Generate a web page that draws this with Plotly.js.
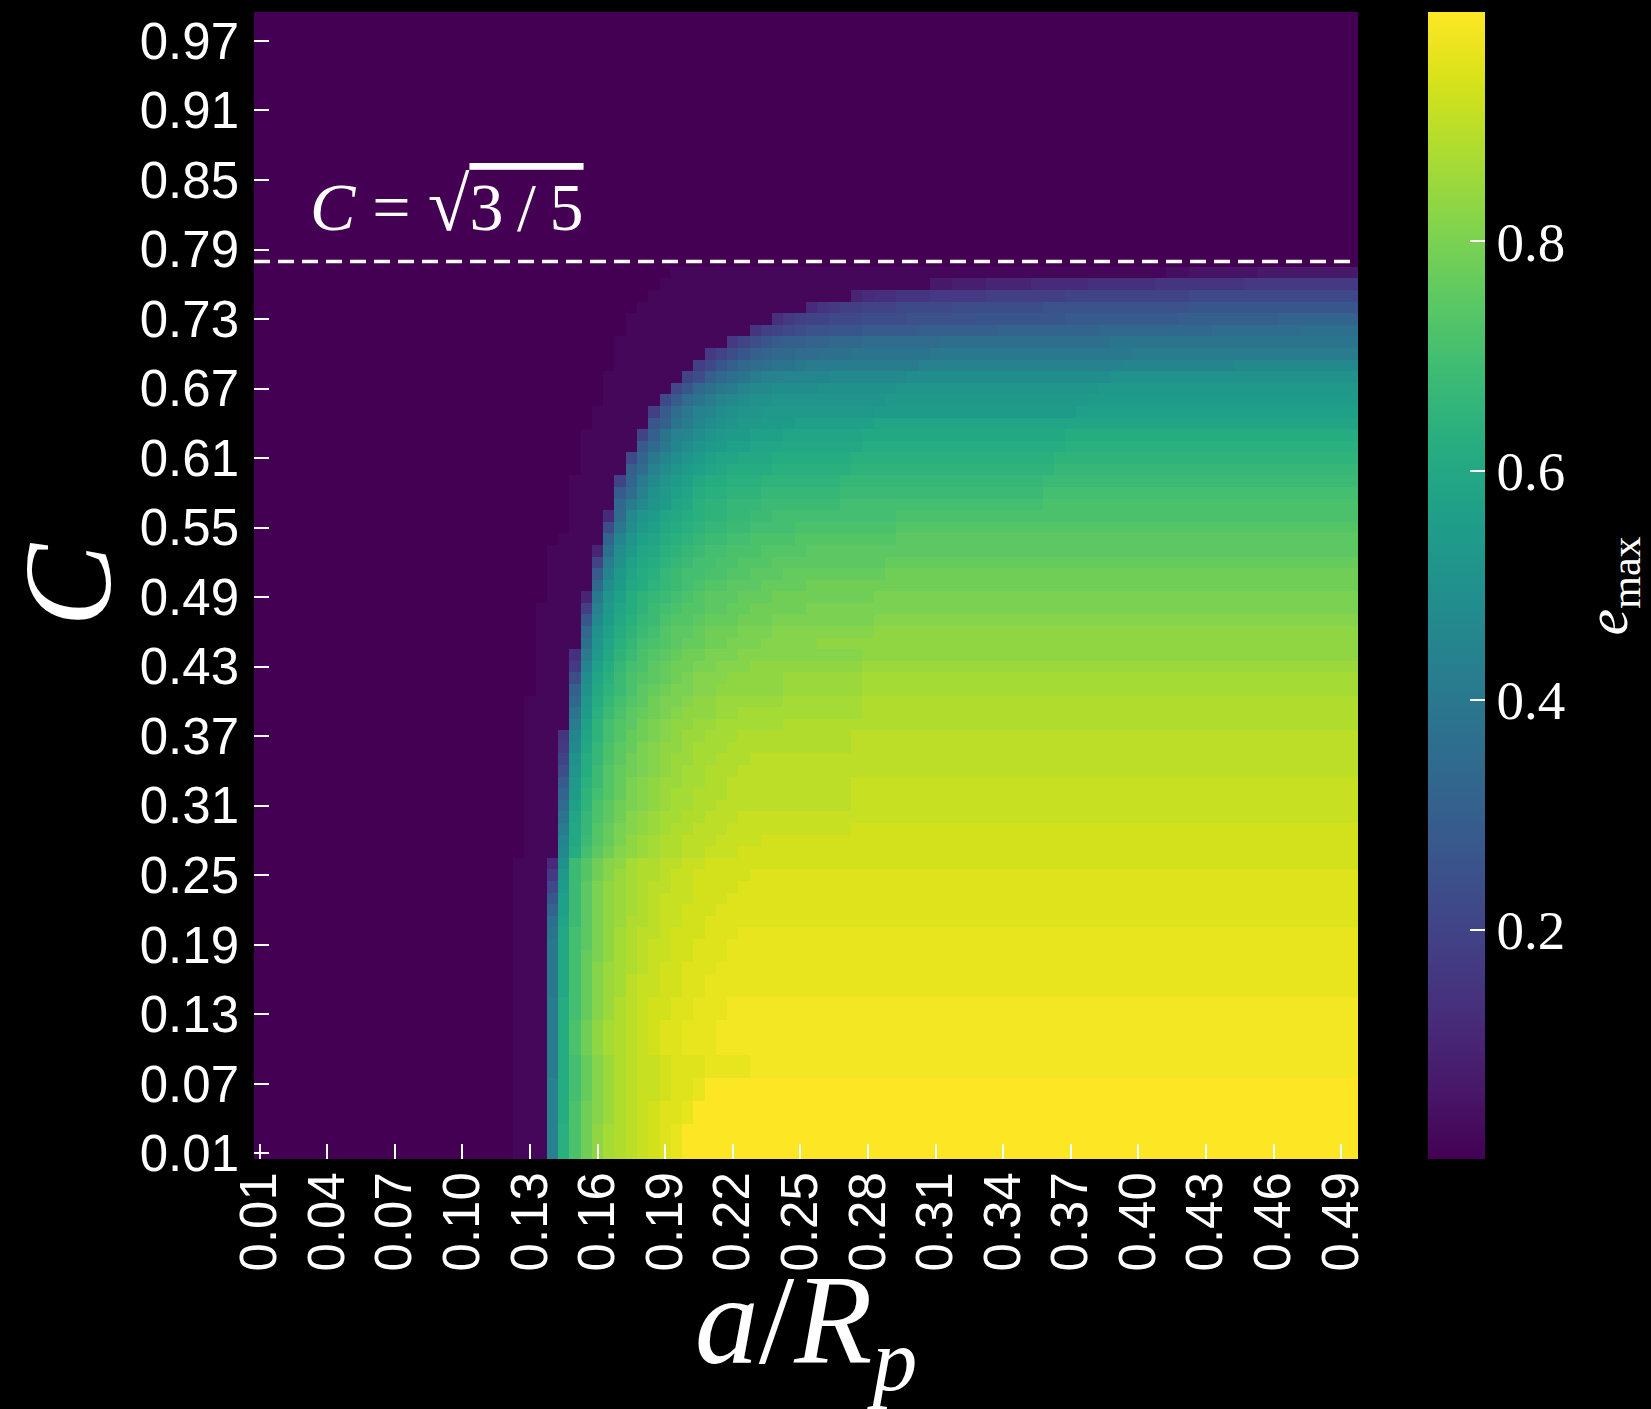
<!DOCTYPE html>
<html>
<head>
<meta charset="utf-8">
<script src="https://cdn.plot.ly/plotly-3.0.1.min.js"></script>
<style>
  html, body { margin: 0; padding: 0; background: #000; }
  #chart { width: 1651px; height: 1409px; }
</style>
</head>
<body>
<div id="chart"></div>
<script>
// ---- data -----------------------------------------------------------------
// a/R_p grid (98 columns)
const aRp = [
  0.0100,0.0151,0.0201,0.0252,0.0302,0.0353,0.0403,0.0454,0.0504,0.0555,
  0.0605,0.0656,0.0706,0.0757,0.0807,0.0858,0.0908,0.0959,0.1009,0.1060,
  0.1110,0.1161,0.1211,0.1262,0.1312,0.1363,0.1413,0.1464,0.1514,0.1565,
  0.1615,0.1666,0.1716,0.1767,0.1818,0.1868,0.1919,0.1969,0.2020,0.2070,
  0.2121,0.2171,0.2222,0.2272,0.2323,0.2373,0.2424,0.2474,0.2525,0.2575,
  0.2626,0.2676,0.2727,0.2777,0.2828,0.2878,0.2929,0.2979,0.3030,0.3080,
  0.3131,0.3181,0.3232,0.3282,0.3333,0.3384,0.3434,0.3485,0.3535,0.3586,
  0.3636,0.3687,0.3737,0.3788,0.3838,0.3889,0.3939,0.3990,0.4040,0.4091,
  0.4141,0.4192,0.4242,0.4293,0.4343,0.4394,0.4444,0.4495,0.4545,0.4596,
  0.4646,0.4697,0.4747,0.4798,0.4848,0.4899,0.4949,0.5000
];
// C grid (99 rows, bottom to top)
const C = [
  0.01,0.02,0.03,0.04,0.05,0.06,0.07,0.08,0.09,0.10,
  0.11,0.12,0.13,0.14,0.15,0.16,0.17,0.18,0.19,0.20,
  0.21,0.22,0.23,0.24,0.25,0.26,0.27,0.28,0.29,0.30,
  0.31,0.32,0.33,0.34,0.35,0.36,0.37,0.38,0.39,0.40,
  0.41,0.42,0.43,0.44,0.45,0.46,0.47,0.48,0.49,0.50,
  0.51,0.52,0.53,0.54,0.55,0.56,0.57,0.58,0.59,0.60,
  0.61,0.62,0.63,0.64,0.65,0.66,0.67,0.68,0.69,0.70,
  0.71,0.72,0.73,0.74,0.75,0.76,0.77,0.78,0.79,0.80,
  0.81,0.82,0.83,0.84,0.85,0.86,0.87,0.88,0.89,0.90,
  0.91,0.92,0.93,0.94,0.95,0.96,0.97,0.98,0.99
];
// e_max, one string per C row (bottom row first).
// Each character is a level: LEVELS.indexOf(ch)/60 ; "c*n" repeats level c n times.
const LEVELS = '0123456789abcdefghijklmnopqrstuvwxyzABCDEFGHIJKLMNOPQRSTUVWXY';
const eMaxRows = [
  "0*23 1*3 qCHLOQRSTUVW Y*60",
  "0*23 1*3 qCHLOQRSTUVW Y*60",
  "0*23 1*3 qCHLOQRSTUVW Y*60",
  "0*23 1*3 qBHLNPRSTUVVW Y*59",
  "0*23 1*3 qBHLNPRSTUVVW Y*59",
  "0*23 1*3 qBGKNPRSTTUVVW Y*58",
  "0*23 1*3 qBGKNPRSTTUVVW Y*58",
  "0*23 1*3 pBGKNPRSTTUVVVWWWW X*54",
  "0*23 1*3 pBGKNPRSTTUVVVWWWW X*54",
  "0*23 1*3 pBHLOQRSTUVVWWW X*57",
  "0*23 1*3 pBHLOQRSTUVVWWW X*57",
  "0*23 1*3 pBHLOQRSTUVVWWW X*57",
  "0*23 1*3 pBGKNPRSTUUVVWWW X*56",
  "0*23 1*3 pBGKNPRSTUUVVWWW X*56",
  "0*23 1*3 oAGKNPQSTTUUVV W*58",
  "0*23 1*3 oAGKNPQSTTUUVV W*58",
  "0*23 1*3 oAGKNPQRSTUUVVV W*57",
  "0*23 1*3 oAGKMOQRSTTUUVVV W*56",
  "0*23 1*3 oAGJMOQRSTTUUVVV W*56",
  "0*23 1*3 nAGJMOQRSSTUUUVVV W*55",
  "0*23 1*3 mzFJMOPRRSTTUU V*58",
  "0*23 1*3 jyFJMOPQRSTTUUU V*57",
  "0*23 1*3 gyFJMOPQRSTTTUUU V*56",
  "0*23 1*3 dxFJMOPQRSSTTUUUU V*55",
  "0*23 1*3 awFILNPQRRSTTUUUUU V*54",
  "0*23 1*3 7uFILNOQRRSSTTUU U*56",
  "0*24 1*3 sBGJLNOPQRRSSTTT U*55",
  "0*24 1*3 rAFIKMOPQRRSSSTTTT U*53",
  "0*24 1*3 pAEIKMNOPQRRSSS T*11 U*45",
  "0*24 1*3 nzEHJLNOPQQRRSSS T*55",
  "0*24 1*3 lyDHJLMNOPQQRR S*12 T*45",
  "0*24 1*3 jxDGIKMNOPQQRRR S*11 T*45",
  "0*24 1*3 hwCFIKMNOPPQQRR S*11 T*45",
  "0*24 1*3 evBFIKLMNOPQQRRR S*55",
  "0*24 1*3 cuBEHJLMNOPPQQRRR S*54",
  "0*24 1*3 asAEHJKMNOOPQQQ R*11 S*45",
  "0*24 1*3 9rzDGIKLMNOPPQQQ R*10 S*45",
  "0*24 1*4 pyDGIJLMNOOPPQQ Q*4 R*51",
  "0*24 1*4 nxCFHJKLMNOOOPP Q*11 R*44",
  "0*24 1*4 kwBEGIJLMMNOOPP P*4 Q*7 R*44",
  "0*25 1*3 iuADFHJKLMMNNOO O*4 P*7 Q*44",
  "0*25 1*3 etzCFHIJKLMNNNO O*4 P*7 Q*44",
  "0*25 1*3 aryBEGHJKLLMMNNN O*10 P*44",
  "0*25 1*3 8pwADFHIJKLLMMM N*11 O*44",
  "0*25 1*4 mvzCEGHIJKKLLMMM N*5 O*48",
  "0*25 1*4 kuyBDFGIJJKLLLMMM N*9 O*43",
  "0*25 1*4 gsxACEFHIIJKKKLLL M*9 N*43",
  "0*25 1*4 bqwzBDFGHIIJJKK L*5 M*49",
  "0*26 1*3 6ovyBDEFGHIJJJKKK L*9 M*43",
  "0*26 1*4 ktxABDEFGHIIJJJKKKK L*49",
  "0*26 1*4 hrwzBCEFGGHHIIJJJ K*9 L*42",
  "0*26 1*4 cpuyABDEFGGHHIII J*10 K*42",
  "0*26 1*4 6mtwzACDEFGGHHHIIII J*49",
  "0*27 1*4 jrvyzBCDEFFGGHHHH I*9 J*41",
  "0*28 1*3 eotwyABCDEEFFGGGG H*9 I*41",
  "0*28 1*3 7lsvxzABCDDEEFFGGGG G*7 H*41",
  "0*28 1*4 kpsvxzACDDEEE F*7 G*18 H*28",
  "0*28 1*4 hlquwyzBCCDDD E*7 F*18 G*28",
  "0*28 1*4 cjpsvxyABBCCC D*7 E*18 F*28",
  "0*29 1*4 ilqtvxyzABBBB C*7 D*18 E*27",
  "0*29 1*4 djortvxyzzAAA B*7 C*18 D*27",
  "0*29 1*5 hkortvwxyyzzz A*7 B*18 C*26",
  "0*29 1*5 cinqrtvwxxyyy z*7 A*18 B*26",
  "0*30 1*5 ginprtuvwwxxx y*7 z*43",
  "0*30 1*5 bhloqrtuvvwww w*7 x*18 y*25",
  "0*31 1*5 dhlnprstuuvvv v*7 w*18 x*24",
  "0*31 1*6 dgkmoprsstttt u*7 v*18 w*23",
  "0*31 1*7 ceikmnpqqrrrr s*7 t*18 u*22",
  "0*32 1*7 bdgiklmnnoppp p*7 q*18 r*10 s*11",
  "0*32 1*8 acegijkkllmmm n*7 o*18 p*20",
  "0*32 1*10 acegh i*2 j*2 k*3 l*7 m*15 n*22",
  "0*33 1*11 9bcde f*2 g*3 h*5 i*7 j*9 k*10 l*8 m*5",
  "0*33 1*13 8ab c*2 d*3 e*4 f*6 g*8 h*10 i*9 j*7",
  "0*34 1*15 79a b*2 c*3 d*5 e*8 f*13 g*15",
  "0*35 1*18 67 8*2 9*3 a*5 b*7 c*11 d*15",
  "0*36 1*24 4*2 5*3 6*4 7*5 8*6 9*8 a*10",
  "0*37 1*44 2*2 3*6 4*9",
  "0*98","0*98","0*98","0*98","0*98","0*98","0*98","0*98","0*98","0*98","0*98",
  "0*98","0*98","0*98","0*98","0*98","0*98","0*98","0*98","0*98","0*98","0*98"
];
const cbTickVals = [0.2, 0.4, 0.6, 0.8];
const cbTickText = ['0.2', '0.4', '0.6', '0.8'];
const Ccrit = Math.sqrt(3/5);

// ---- decode ---------------------------------------------------------------
function decodeRow(str) {
  const out = [];
  for (const tok of str.trim().split(/\s+/)) {
    if (tok.includes('*')) {
      const [c, n] = tok.split('*');
      const v = LEVELS.indexOf(c) / 60;
      for (let k = 0; k < +n; k++) out.push(v);
    } else {
      for (const ch of tok) out.push(LEVELS.indexOf(ch) / 60);
    }
  }
  return out;
}
const z = eMaxRows.map(decodeRow);
z.forEach((r, i) => { if (r.length !== aRp.length) console.warn('row', i, 'len', r.length); });

// cells occupy [i, i+1] on each axis (heatmap index coordinates)
const xc = aRp.map((_, i) => i + 0.5);
const yc = C.map((_, i) => i + 0.5);
const xTickVals = [], xTickText = [];
for (let i = 0; i < aRp.length; i += 6) { xTickVals.push(i + 0.5); xTickText.push(aRp[i].toFixed(2)); }
const yTickVals = [], yTickText = [];
for (let i = 0; i < C.length; i += 6) { yTickVals.push(i + 0.5); yTickText.push(C[i].toFixed(2)); }
const critLineY = Ccrit * 100;   // position in row-index units, as in the source figure

const white = '#ffffff';
const trace = {
  type: 'heatmap',
  x: xc, y: yc, z: z,
  zmin: 0, zmax: 1,
  colorscale: 'Viridis',
  zsmooth: false,
  hoverinfo: 'skip',
  colorbar: {
    x: 1.0632, xanchor: 'left', xpad: 0,
    y: 0.5, yanchor: 'middle', ypad: 0,
    len: 1, lenmode: 'fraction',
    thickness: 57, thicknessmode: 'pixels',
    outlinewidth: 0,
    tickmode: 'array', tickvals: cbTickVals, ticktext: cbTickText,
    ticks: 'inside', ticklen: 15, tickwidth: 2, tickcolor: white,
    tickfont: { family: 'Liberation Serif', size: 55, color: white }
  }
};

const layout = {
  width: 1651, height: 1409,
  margin: { l: 254, r: 293, t: 12, b: 250, pad: 0 },
  paper_bgcolor: '#000000', plot_bgcolor: '#000000',
  showlegend: false,
  xaxis: {
    range: [0, aRp.length], showgrid: false, zeroline: false, showline: false,
    tickmode: 'array', tickvals: xTickVals, ticktext: xTickText,
    ticks: 'inside', ticklen: 15, tickwidth: 2, tickcolor: white,
    tickangle: -90, ticklabelstandoff: 2,
    tickfont: { family: 'Liberation Sans', size: 51, color: white },
    title: { text: '<i>a</i>/<i>R<sub>p</sub></i>', standoff: 36,
             font: { family: 'Liberation Serif', size: 128, color: white } }
  },
  yaxis: {
    range: [0, C.length], showgrid: false, zeroline: false, showline: false,
    tickmode: 'array', tickvals: yTickVals, ticktext: yTickText,
    ticks: 'inside', ticklen: 15, tickwidth: 2, tickcolor: white,
    ticklabelstandoff: 14,
    tickfont: { family: 'Liberation Sans', size: 51, color: white },
    title: { text: '<i>C</i>', standoff: 22,
             font: { family: 'Liberation Serif', size: 124, color: white } }
  },
  shapes: [{
    type: 'line', xref: 'paper', yref: 'y',
    x0: 0, x1: 1, y0: critLineY, y1: critLineY,
    line: { color: white, width: 3.5, dash: '16px,8px' }
  }],
  annotations: [{
    xref: 'paper', yref: 'paper', x: 0.049, y: 0.833,
    xanchor: 'left', yanchor: 'middle', showarrow: false,
    text: "<i>C</i> = <span style='font-size:76px'>√</span><span style='text-decoration:overline'>3\u2009/\u20095</span>",
    font: { family: 'Liberation Serif', size: 68, color: white }
  }, {
    xref: 'paper', yref: 'paper', x: 1.230, y: 0.5,
    xanchor: 'center', yanchor: 'middle', showarrow: false, textangle: -90,
    text: '<i>e</i><sub>max</sub>',
    font: { family: 'Liberation Serif', size: 60, color: white }
  }]
};

Plotly.newPlot('chart', [trace], layout, { staticPlot: true, displayModeBar: false });
</script>
</body>
</html>
